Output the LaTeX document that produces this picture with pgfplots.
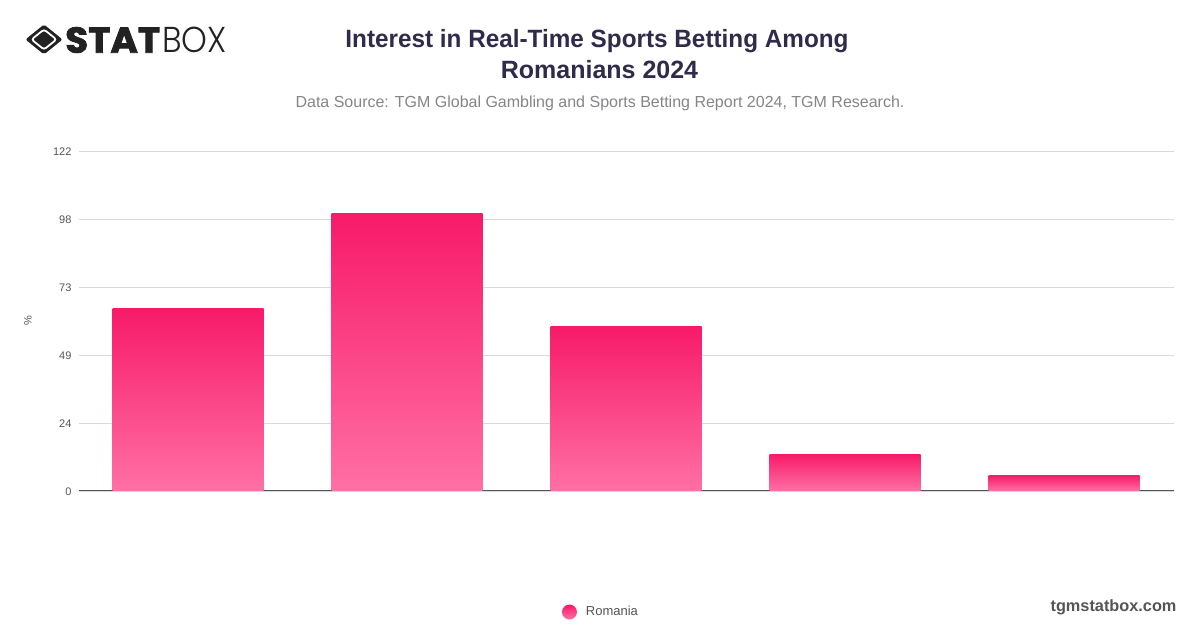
\documentclass[border=0pt]{standalone}
\usepackage{pgfplots}
\pgfplotsset{compat=1.18}
\usepackage{fontspec}
\setmainfont{Liberation Sans}
\newfontfamily\logobold[FakeBold=2]{Poppins Bold}
\newfontfamily\logolight{Poppins Light}
\definecolor{titlec}{HTML}{2F2B4A}
\definecolor{subc}{HTML}{85858A}
\definecolor{tickc}{HTML}{555555}
\definecolor{gridc}{HTML}{D9D9DC}
\definecolor{axisc}{HTML}{55555F}
\definecolor{bartop}{HTML}{F71A68}
\definecolor{barbot}{HTML}{FF70A4}
\definecolor{logoc}{HTML}{222222}
\begin{document}
\begin{tikzpicture}[x=1pt,y=1pt]
\useasboundingbox (0,0) rectangle (1200,628);
\fill[white] (0,0) rectangle (1200,628);
\begin{axis}[
  at={(79pt,137pt)},anchor=south west,
  scale only axis,width=1095pt,height=340pt,
  xmin=-0.5,xmax=4.5,ymin=0,ymax=122,
  ybar,bar width=0.69,bar shift=-0.4pt,
  axis y line*=left,
  axis x line*=bottom,
  y axis line style={draw=none},
  x axis line style={draw=axisc,line width=1pt,-},
  xtick=\empty,
  ytick={0,24.4,48.8,73.2,97.6,122},
  yticklabels={0,24,49,73,98,122},
  ymajorgrids,
  grid style={gridc,line width=0.8pt},
  major tick length=0pt,
  tick style={draw=none},
  yticklabel style={font=\fontsize{11}{13}\selectfont,text=tickc,xshift=-4pt,yshift=-0.7pt},
  ylabel={\%},
  ylabel style={font=\fontsize{11}{13}\selectfont,text=tickc,at={(axis description cs:-0.04,0.5)},anchor=south},
  legend style={at={(0.4767,-0.356)},anchor=center,draw=none,fill=none,column sep=7pt,font=\fontsize{13}{16}\selectfont\color{tickc},legend cell align=left},
  legend image code/.code={\shade[top color=bartop,bottom color=barbot] (0.12cm,0) circle (7.5pt);},
  clip=false,
]
\addplot[draw=none,shade,top color=bartop,bottom color=barbot] coordinates {(0,65.5)};
\addlegendentry{Romania}
\addplot[forget plot,draw=none,shade,top color=bartop,bottom color=barbot] coordinates {(1,99.6)};
\addplot[forget plot,draw=none,shade,top color=bartop,bottom color=barbot] coordinates {(2,59.1)};
\addplot[forget plot,draw=none,shade,top color=bartop,bottom color=barbot] coordinates {(3,13.2)};
\addplot[forget plot,draw=none,shade,top color=bartop,bottom color=barbot] coordinates {(4,5.7)};
\end{axis}
\node[text=titlec,font=\fontsize{25}{30}\selectfont\bfseries,xscale=0.972,transform shape] at (597,587) {Interest in Real-Time Sports Betting Among};
\node[text=titlec,font=\fontsize{25}{30}\selectfont\bfseries] at (599.5,558) {Romanians 2024};
\node[text=subc,font=\fontsize{16}{20}\selectfont] at (600,525) {Data Source: TGM Global Gambling and Sports Betting Report 2024, TGM Research.};
\node[anchor=east,text=tickc,font=\fontsize{16.3}{20}\selectfont\bfseries] at (1180,21) {tgmstatbox.com};
% logo
\fill[logoc,rounded corners=2pt] (44,603.5) -- (62.5,588.5) -- (44,573.5) -- (25.5,588.5) -- cycle;
\draw[white,line width=1.8pt,rounded corners=2.5pt] (44,598.5) -- (56.5,588.5) -- (44,578.5) -- (31.5,588.5) -- cycle;
\node[anchor=west,inner sep=0pt,text=logoc,font=\logobold\fontsize{36}{36}\selectfont,xscale=1.04,transform shape] at (65,588) {STAT};
\node[anchor=west,inner sep=0pt,text=logoc,font=\logolight\fontsize{36}{36}\selectfont,xscale=0.91,transform shape] at (162,588) {BOX};
\end{tikzpicture}
\end{document}
